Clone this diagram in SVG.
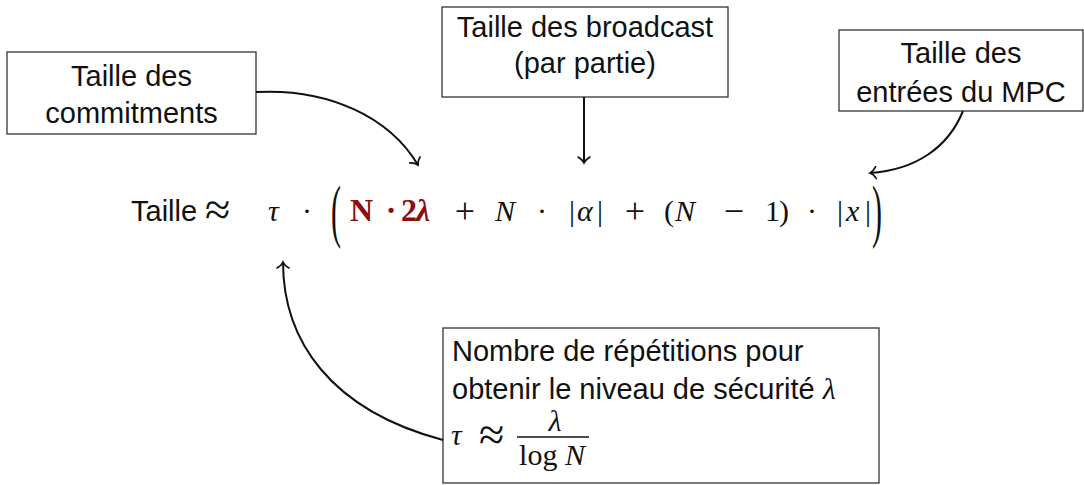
<svg xmlns="http://www.w3.org/2000/svg" width="1084" height="485" viewBox="0 0 1084 485">
<style>
.box{fill:#fff;stroke:#333;stroke-width:1.3}
.lbl{font-family:"Liberation Sans",Arial,sans-serif;font-size:29px;fill:#111}
.c{text-anchor:middle}
.m{font-family:"Liberation Serif","Times New Roman",serif;font-size:30px;fill:#111}
.op{font-family:"Liberation Serif","Times New Roman",serif;font-size:36px;fill:#111;text-anchor:middle}
.ap{font-family:"Liberation Serif","Times New Roman",serif;font-size:46px;fill:#111}
.i{font-style:italic}
.red{fill:#8c0d0d;font-weight:bold;font-size:32px}
.conn{fill:none;stroke:#111;stroke-width:2}
</style>
<defs>
<marker id="arr" markerUnits="userSpaceOnUse" markerWidth="16" markerHeight="16" viewBox="-8 -8 16 16" refX="0" refY="0" orient="auto">
<path d="M-6,-6 C-4,-2.5 -1.5,-0.6 0,0 C-1.5,0.6 -4,2.5 -6,6" fill="none" stroke="#111" stroke-width="1.6" stroke-linecap="round"/>
</marker>
</defs>
<rect width="1084" height="485" fill="#fff"/>
<g id="commitments">
<rect class="box" x="7" y="52" width="249" height="82"/>
<text class="lbl c" x="131.5" y="86">Taille des</text>
<text class="lbl c" x="131.5" y="123">commitments</text>
</g>
<g id="broadcast">
<rect class="box" x="442" y="7" width="286" height="90"/>
<text class="lbl c" x="585" y="37">Taille des broadcast</text>
<text class="lbl c" x="585" y="73">(par partie)</text>
</g>
<g id="entrees">
<rect class="box" x="839" y="30" width="244" height="81"/>
<text class="lbl c" x="961" y="63">Taille des</text>
<text class="lbl c" x="961" y="102">entrées du MPC</text>
</g>
<g id="formule">
<text class="lbl" x="131" y="221">Taille</text>
<text class="ap" x="205" y="225">≈</text>
<text class="m i" x="268" y="221" font-size="32">τ</text>
<text class="m c" x="307" y="221">·</text>
<text class="m" transform="translate(331,234) scale(1,2.3)">(</text>
<text class="m red" x="350" y="221">N</text>
<text class="m red c" x="391" y="221">·</text>
<text class="m red" x="401" y="221">2</text>
<text class="m red i" x="416" y="221">λ</text>
<text class="op" x="465" y="223">+</text>
<text class="m i" x="495" y="221">N</text>
<text class="m c" x="542" y="221">·</text>
<text class="m" x="569" y="221">|</text>
<text class="m i" x="577" y="221">α</text>
<text class="m" x="597" y="221">|</text>
<text class="op" x="635" y="223">+</text>
<text class="m" x="664" y="221">(</text>
<text class="m i" x="675" y="221">N</text>
<text class="op" x="734" y="223">−</text>
<text class="m" x="765" y="221">1</text>
<text class="m" x="779" y="221">)</text>
<text class="m c" x="812" y="221">·</text>
<text class="m" x="837" y="221">|</text>
<text class="m i" x="846" y="221">x</text>
<text class="m" x="865" y="221">|</text>
<text class="m" transform="translate(872,234) scale(1,2.3)">)</text>
</g>
<g id="repetitions">
<rect class="box" x="443" y="328" width="436" height="155"/>
<text class="lbl" x="452" y="361">Nombre de répétitions pour</text>
<text class="lbl" x="452" y="399">obtenir le niveau de sécurité <tspan class="m i">λ</tspan></text>
<text class="m i" x="451" y="445" font-size="32">τ</text>
<text class="ap" x="479" y="450">≈</text>
<line x1="517" y1="437" x2="589" y2="437" stroke="#111" stroke-width="1.3"/>
<text class="m i c" x="555" y="431" font-size="28">λ</text>
<text class="m c" x="552" y="465">log <tspan class="i">N</tspan></text>
</g>
<g id="connecteurs">
<path class="conn" d="M256,92 C330,88 390,118 418,165" marker-end="url(#arr)"/>
<path class="conn" d="M584,97 L584,163" marker-end="url(#arr)"/>
<path class="conn" d="M963,111 C948,148 915,170 870,173" marker-end="url(#arr)"/>
<path class="conn" d="M443,440 C330,410 283,340 283,262" marker-end="url(#arr)"/>
</g>
</svg>
